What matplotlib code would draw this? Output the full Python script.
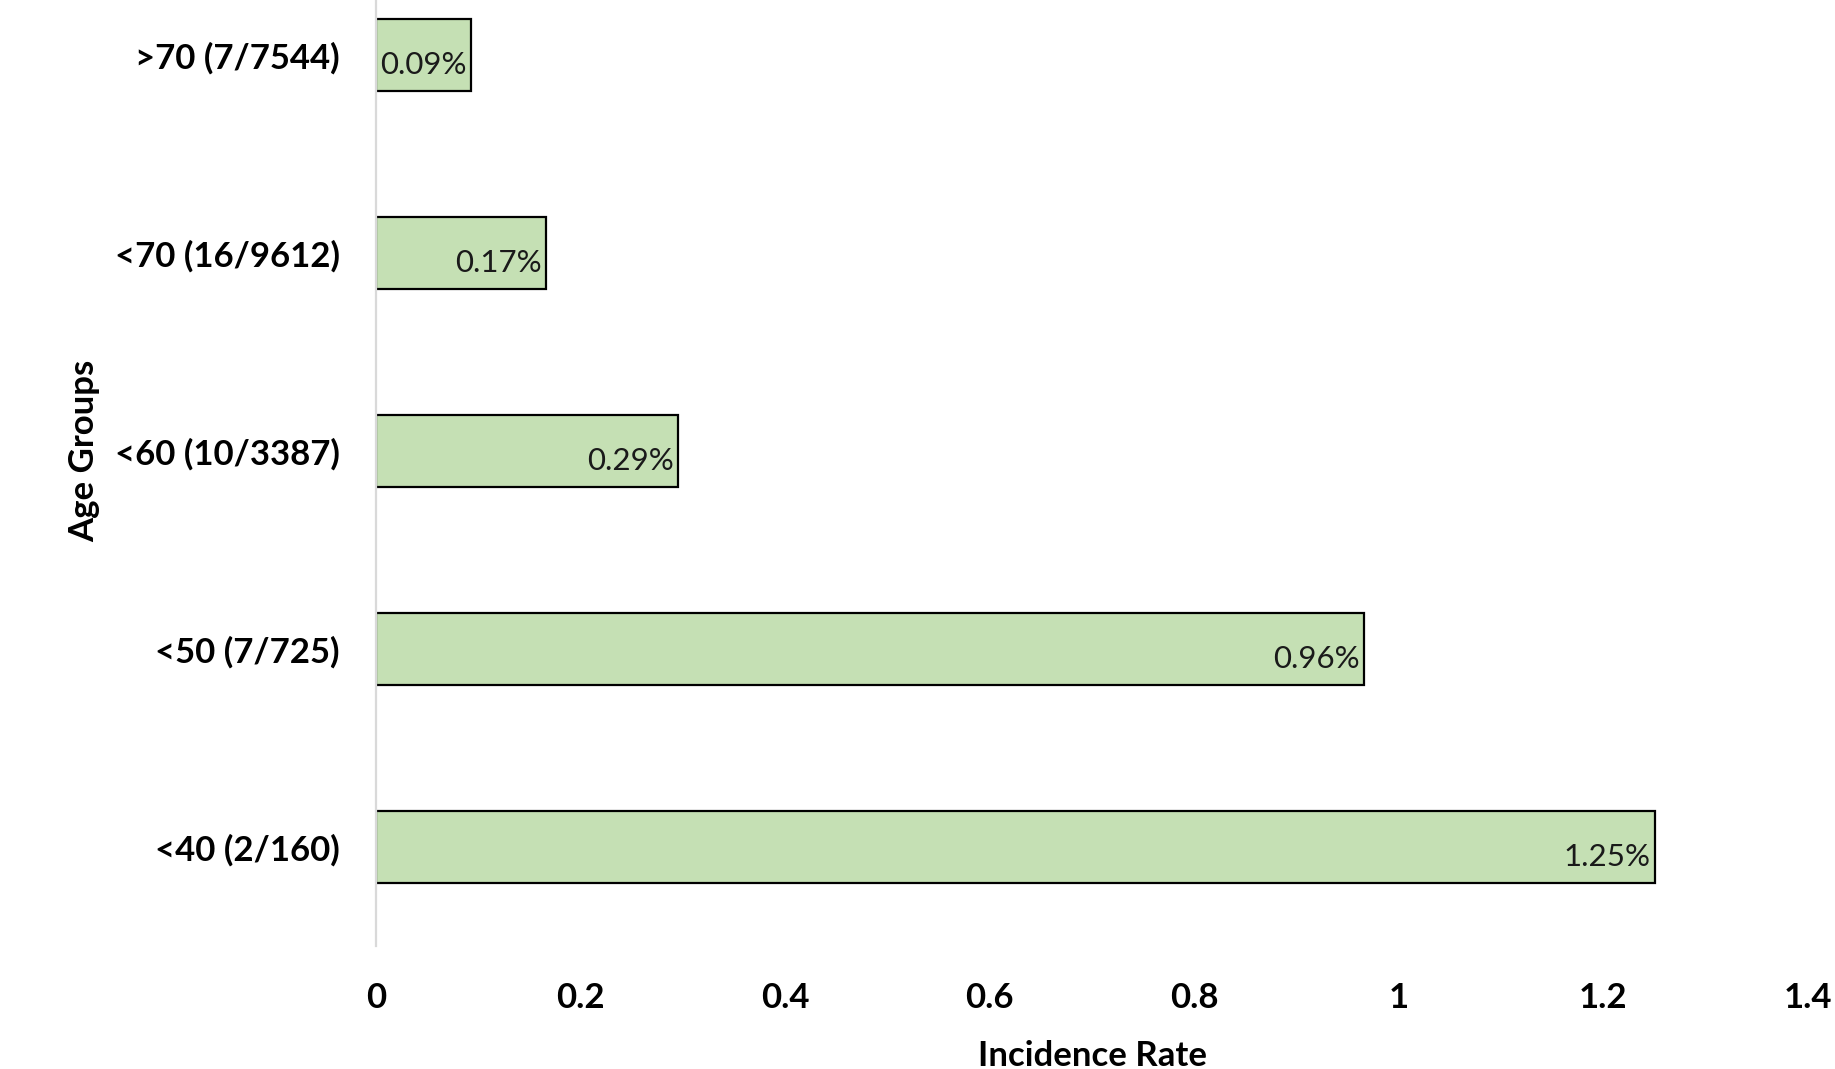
import matplotlib
matplotlib.use("Agg")
import matplotlib.pyplot as plt

# Data (bottom to top)
categories = ["<40 (2/160)", "<50 (7/725)", "<60 (10/3387)", "<70 (16/9612)", ">70 (7/7544)"]
rates = [1.25, 0.966, 0.295, 0.166, 0.093]
rate_labels = ["1.25%", "0.96%", "0.29%", "0.17%", "0.09%"]
xticks = [0, 0.2, 0.4, 0.6, 0.8, 1.0, 1.2, 1.4]
xtick_labels = ["0", "0.2", "0.4", "0.6", "0.8", "1", "1.2", "1.4"]

plt.rcParams['font.family'] = ['Lato', 'DejaVu Sans']

fig = plt.figure(figsize=(18.35, 10.69), dpi=100)
ax = fig.add_axes([376/1835, 1 - 946/1069, 1432/1835, 990/1069])

ypos = list(range(len(categories)))
bars = ax.barh(ypos, rates, height=0.368, color="#c5e0b4", edgecolor="black", linewidth=1.6, zorder=2)

for y, v, lab in zip(ypos, rates, rate_labels):
    ax.annotate(lab, xy=(v, y), xytext=(-3, -7), textcoords="offset points",
                ha="right", va="center", fontsize=22.5, color="#1a1a1a")

ax.set_xlim(0, 1.4)
ax.set_ylim(-0.5, 4.5)
ax.set_xticks(xticks)
ax.set_xticklabels(xtick_labels, fontsize=25, fontweight="bold")
ax.set_yticks(ypos)
ax.set_yticklabels(categories, fontsize=25, fontweight="bold")
ax.tick_params(axis="x", length=0, pad=26)
ax.tick_params(axis="y", length=0, pad=26)

for s in ["top", "right", "bottom"]:
    ax.spines[s].set_visible(False)
ax.spines["left"].set_color("#d9d9d9")
ax.spines["left"].set_linewidth(1.6)

ax.set_xlabel("Incidence Rate", fontsize=25, fontweight="bold")
ax.xaxis.set_label_coords(0.5, (946 - 1056) / 990)
ax.xaxis.label.set_va("center")
ax.set_ylabel("Age Groups", fontsize=25, fontweight="bold")
ax.yaxis.set_label_coords((84 - 376) / 1432, 0.5)
ax.yaxis.label.set_va("center")

fig.savefig("out.png", dpi=100)
